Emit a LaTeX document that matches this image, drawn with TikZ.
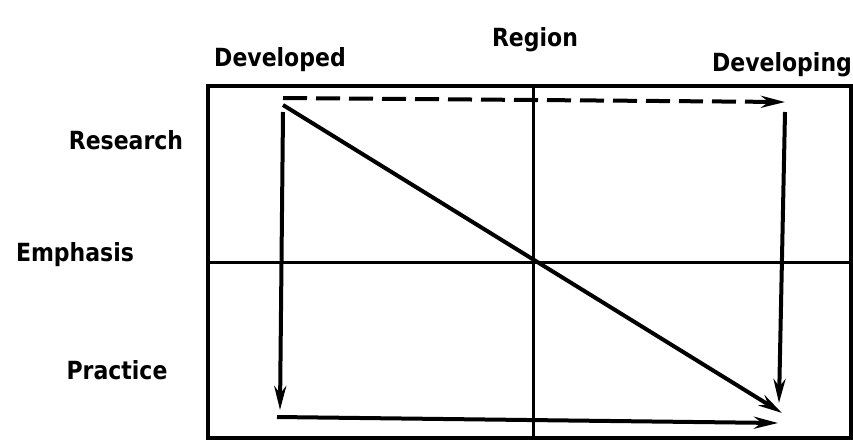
\documentclass[tikz,border=0pt]{standalone}
\usepackage{fontspec}
\usepackage{graphicx}
\setmainfont{DejaVu Sans}
\usetikzlibrary{arrows.meta}
\newcommand{\lbltext}[1]{\scalebox{0.88}[1]{\bfseries\fontsize{25}{28}\selectfont #1}}
\begin{document}
\begin{tikzpicture}[x=1pt,y=-1pt,
  lbl/.style={inner sep=0pt, anchor=center},
  frame/.style={line width=3.8pt},
  grid/.style={line width=3pt},
  arr/.style={line width=4pt, -{Stealth[length=24pt,width=12pt]}},
  dasharr/.style={arr, dash pattern=on 24pt off 9pt}]
\useasboundingbox (0,0) rectangle (853,445);
% frame and quadrants
\draw[frame] (853,86) -- (208,86) -- (208,438) -- (851,438) -- (851,86);
\coordinate (midtop) at (533,86);
\coordinate (midbot) at (533,438);
\coordinate (midleft) at (208,262);
\coordinate (midright) at (853,262);
\draw[grid] (midtop) -- (midbot);
\draw[grid] (midleft) -- (midright);
% labels
\node[lbl] (region) at (535,40) {\lbltext{Region}};
\node[lbl] (developed) at (280,60) {\lbltext{Developed}};
\node[lbl] (developing) at (782,65) {\lbltext{Developing}};
\node[lbl] (research) at (126,140) {\lbltext{Research}};
\node[lbl] (emphasis) at (75,255) {\lbltext{Emphasis}};
\node[lbl] (practice) at (117,370) {\lbltext{Practice}};
% arrow endpoints
\coordinate (dS) at (283,98);
\coordinate (dE) at (785,102);
\coordinate (lS) at (283,112);
\coordinate (lE) at (280,410);
\coordinate (gS) at (283,105);
\coordinate (gE) at (782,413);
\coordinate (rS) at (785,112);
\coordinate (rE) at (779,403);
\coordinate (bS) at (277,417);
\coordinate (bE) at (778,423);
% arrows
\draw[dasharr] (dS) -- (dE);
\draw[arr] (lS) -- (lE);
\draw[arr] (gS) -- (gE);
\draw[arr] (rS) -- (rE);
\draw[arr] (bS) -- (bE);
\end{tikzpicture}
\end{document}
